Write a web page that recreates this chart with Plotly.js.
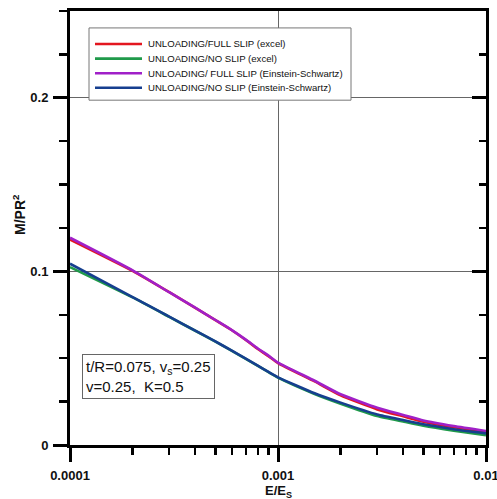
<!DOCTYPE html>
<html>
<head>
<meta charset="utf-8">
<script src="https://cdn.plot.ly/plotly-3.0.1.min.js"></script>
<style>html,body{margin:0;padding:0;background:#fff;}#chart{width:497px;height:499px;}</style>
</head>
<body>
<div id="chart"></div>
<script>
// E/Es sample points
const xValues = [0.0001, 0.0002, 0.0003, 0.0004, 0.0005, 0.0006, 0.0007, 0.0008, 0.0009, 0.001, 0.0015, 0.002, 0.003, 0.004, 0.005, 0.007, 0.01];
// M/PR^2 series
const fullSlipExcel = [0.1184, 0.1003, 0.0880, 0.0790, 0.0719, 0.0661, 0.0605, 0.0553, 0.0512, 0.0472, 0.0366, 0.0286, 0.0205, 0.0165, 0.0134, 0.0102, 0.0076];
const noSlipExcel   = [0.1025, 0.0850, 0.0738, 0.0658, 0.0596, 0.0542, 0.0496, 0.0456, 0.0420, 0.0388, 0.0294, 0.0238, 0.0167, 0.0135, 0.0111, 0.0083, 0.0057];
const fullSlipES    = [0.1194, 0.1006, 0.0880, 0.0791, 0.0720, 0.0662, 0.0607, 0.0556, 0.0515, 0.0475, 0.0370, 0.0292, 0.0214, 0.0173, 0.0141, 0.0109, 0.0081];
const noSlipES      = [0.1044, 0.0852, 0.0739, 0.0659, 0.0597, 0.0543, 0.0497, 0.0457, 0.0421, 0.0390, 0.0298, 0.0244, 0.0176, 0.0144, 0.0120, 0.0091, 0.0067];
const seriesNames = [
  'UNLOADING/FULL SLIP (excel)',
  'UNLOADING/NO SLIP (excel)',
  'UNLOADING/ FULL SLIP (Einstein-Schwartz)',
  'UNLOADING/NO SLIP (Einstein-Schwartz)'
];
const seriesColors = ['#e3161f', '#1f9a4a', '#a020c8', '#163f8f'];
const xTickVals = [0.0001, 0.001, 0.01];
const xTickText = ['0.0001', '0.001', '0.01'];
const yTickVals = [0, 0.1, 0.2];
const yTickText = ['0', '0.1', '0.2'];
const xTitle = '<b>E/E<sub>S</sub></b>';
const yTitle = '<b>M/PR<sup>2</sup></b>';
const noteText = 't/R=0.075, v<sub>s</sub>=0.25<br>v=0.25,  K=0.5';

const seriesData = [fullSlipExcel, noSlipExcel, fullSlipES, noSlipES];
const traces = seriesData.map((ys, i) => ({
  x: xValues, y: ys, type: 'scatter', mode: 'lines', name: seriesNames[i],
  line: {color: seriesColors[i], width: 2.6, shape: 'spline', smoothing: 0.5},
  showlegend: false
}));
// invisible trace to carry the mirrored right axis
traces.push({x: [xValues[0]], y: [0], yaxis: 'y2', mode: 'markers', marker: {opacity: 0}, showlegend: false, hoverinfo: 'skip'});

const xMinor = [];
for (const d of [0.0001, 0.001]) for (let k = 2; k <= 9; k++) xMinor.push(+(k * d).toPrecision(3));

const font = 'Liberation Sans, Arial, sans-serif';

// custom legend (paper coords)
const shapes = [];
const annotations = [];
const L = {x0: 0.0457, x1: 0.6755, y0: 0.961, y1: 0.7945};
shapes.push({type: 'rect', xref: 'paper', yref: 'paper', x0: L.x0, x1: L.x1, y0: L.y0, y1: L.y1,
  line: {color: '#777', width: 1}, fillcolor: 'rgba(255,255,255,1)', layer: 'above'});
seriesNames.forEach((n, i) => {
  const yy = (445 - (44 + i * 14.6)) / 434;
  shapes.push({type: 'line', xref: 'paper', yref: 'paper', x0: (95 - 70) / 416, x1: (142 - 70) / 416, y0: yy, y1: yy,
    line: {color: seriesColors[i], width: 2.6}, layer: 'above'});
  annotations.push({xref: 'paper', yref: 'paper', x: (146 - 70) / 416, y: yy, xanchor: 'left', yanchor: 'middle',
    text: n, showarrow: false, font: {family: font, size: 9.6, color: '#111'}});
});
annotations.push({xref: 'paper', yref: 'paper', x: (82 - 70) / 416, y: (445 - 354) / 434, xanchor: 'left', yanchor: 'top',
  text: noteText, showarrow: false, align: 'left', bordercolor: '#666', borderwidth: 1, borderpad: 3, bgcolor: '#fff',
  font: {family: font, size: 15, color: '#111'}});
// y axis title
annotations.push({xref: 'paper', yref: 'paper', x: (19 - 70) / 416, y: (445 - 215) / 434, xanchor: 'center', yanchor: 'middle',
  text: yTitle, textangle: -90, showarrow: false, font: {family: font, size: 14, color: '#111'}});
// x axis title
annotations.push({xref: 'paper', yref: 'paper', x: 0.5, y: (445 - 491) / 434, xanchor: 'center', yanchor: 'middle',
  text: xTitle, showarrow: false, borderpad: 0, font: {family: font, size: 13, color: '#111'}});

const layout = {
  width: 497, height: 499,
  margin: {l: 70, r: 11, t: 11, b: 54},
  paper_bgcolor: '#fff', plot_bgcolor: '#fff',
  showlegend: false,
  font: {family: font, color: '#111'},
  xaxis: {
    type: 'log', range: [-4, -2],
    tickvals: xTickVals, ticktext: xTickText,
    ticks: 'outside', ticklen: 14, tickwidth: 3, tickcolor: '#000',
    showline: true, linewidth: 3, linecolor: '#000', mirror: true,
    showgrid: true, gridcolor: '#666', gridwidth: 1,
    zeroline: false, ticklabeloverflow: 'allow', ticklabelstandoff: 2,
    tickfont: {family: font, size: 13, color: '#111', weight: 'bold'},
    minor: {tickvals: xMinor, ticks: 'outside', ticklen: 7, tickwidth: 2.5, tickcolor: '#000', showgrid: false}
  },
  yaxis: {
    range: [0, 0.25],
    tickvals: yTickVals, ticktext: yTickText,
    ticks: 'outside', ticklen: 14, tickwidth: 3, tickcolor: '#000',
    showline: true, linewidth: 3, linecolor: '#000', mirror: true,
    showgrid: true, gridcolor: '#666', gridwidth: 1,
    zeroline: false, ticklabelstandoff: 2,
    tickfont: {family: font, size: 13, color: '#111', weight: 'bold'},
    minor: {dtick: 0.025, tick0: 0, ticks: 'outside', ticklen: 8, tickwidth: 2.5, tickcolor: '#000', showgrid: false}
  },
  yaxis2: {
    overlaying: 'y', side: 'right', range: [0, 0.25],
    tickvals: yTickVals, ticks: 'inside', ticklen: 14, tickwidth: 3, tickcolor: '#000',
    showticklabels: false, showgrid: false, showline: false, zeroline: false,
    minor: {dtick: 0.025, tick0: 0, ticks: 'inside', ticklen: 7, tickwidth: 2.5, tickcolor: '#000', showgrid: false}
  },
  shapes: shapes,
  annotations: annotations
};

Plotly.newPlot('chart', traces, layout, {staticPlot: true, displayModeBar: false});
</script>
</body>
</html>
